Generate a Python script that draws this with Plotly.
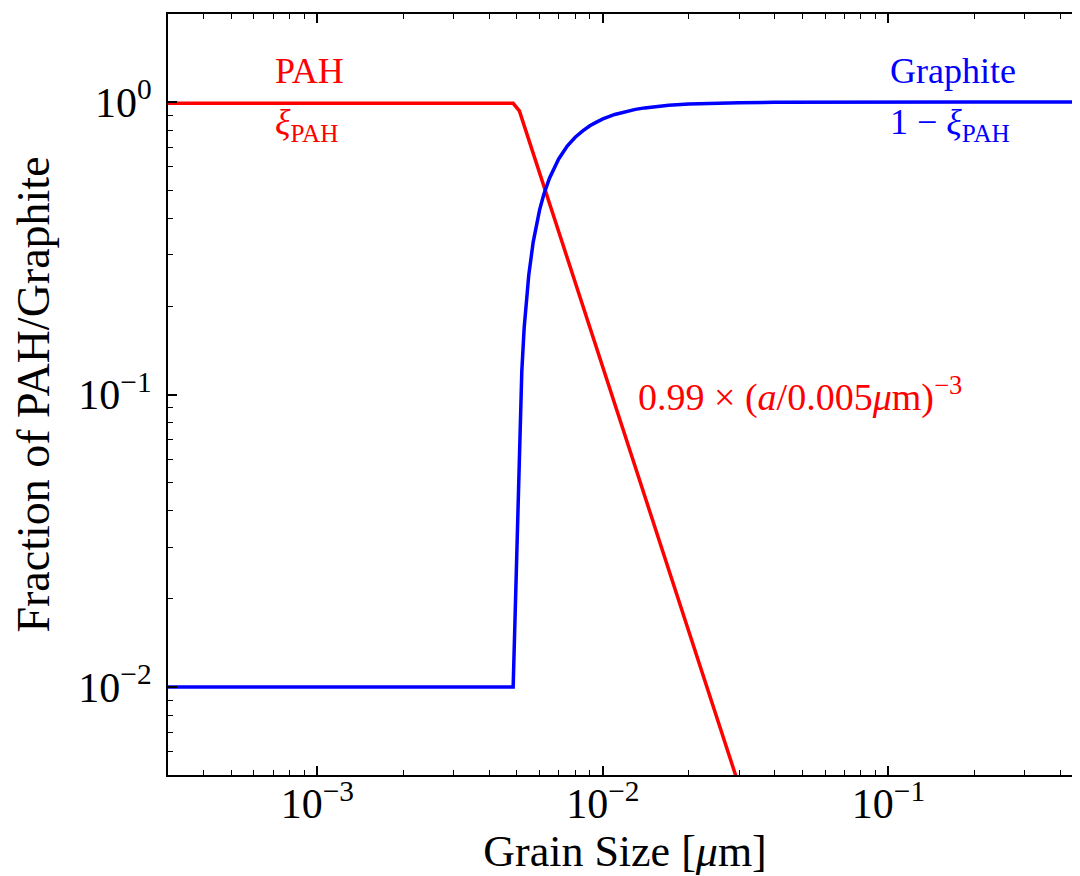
import numpy as np
import plotly.graph_objects as go

# Grain size [um]
pah_x = [0.0003, 0.00485, 0.0051, 0.0052, 0.03]
pah_y = [0.99, 0.99, 0.933, 0.880, 0.00458]

gra_x = [0.0003, 0.00485, 0.0052, 0.0053, 0.0055, 0.0057, 0.006, 0.0062, 0.0065,
         0.007, 0.0075, 0.008, 0.0085, 0.009, 0.0095, 0.010, 0.011, 0.012, 0.013,
         0.014, 0.015, 0.017, 0.02, 0.025, 0.03, 0.04, 0.05, 0.07, 0.1, 0.2, 0.5]
gra_y = [0.01, 0.01, 0.12, 0.169, 0.256, 0.332, 0.427, 0.481, 0.549,
         0.639, 0.707, 0.758, 0.797, 0.830, 0.854, 0.876, 0.907, 0.928, 0.944,
         0.955, 0.963, 0.975, 0.985, 0.992, 0.995, 0.998, 0.999, 1.0, 1.0, 1.0, 1.0]

x_major = [1e-3, 1e-2, 1e-1]
x_major_text = ["10<sup>−3</sup>", "10<sup>−2</sup>", "10<sup>−1</sup>"]
y_major = [1e-2, 1e-1, 1e0]
y_major_text = ["10<sup>−2</sup>", "10<sup>−1</sup>", "10<sup>0</sup>"]

x_minor = [m * 10.0 ** e for e in (-4, -3, -2, -1) for m in range(2, 10)]
y_minor = [m * 10.0 ** e for e in (-3, -2, -1, 0) for m in range(2, 10)]

FONT = "Liberation Serif"
RED = "#ff0000"
BLUE = "#0000ff"

fig = go.Figure()
fig.add_trace(go.Scatter(x=pah_x, y=pah_y, mode="lines",
                         line=dict(color=RED, width=3.5), showlegend=False))
fig.add_trace(go.Scatter(x=gra_x, y=gra_y, mode="lines",
                         line=dict(color=BLUE, width=3.5), showlegend=False))

axis_common = dict(
    type="log", showgrid=False, zeroline=False, automargin=False,
    showline=True, linecolor="black", linewidth=2,
    ticks="inside", ticklen=9, tickwidth=1.5, tickcolor="black",
    tickfont=dict(family=FONT, size=42, color="black"),
    tickmode="array",
)

fig.update_xaxes(**axis_common,
                 mirror="allticks",
                 range=[np.log10(3e-4), np.log10(0.476)],
                 tickvals=x_major, ticktext=x_major_text,
                 ticklabelstandoff=-9,
                 minor=dict(tickmode="array", tickvals=x_minor, ticks="inside",
                            ticklen=5, tickwidth=1.2, tickcolor="black", showgrid=False),
                 title=dict(text="Grain Size [<i>μ</i>m]",
                            font=dict(family=FONT, size=44, color="black"), standoff=6))
fig.update_yaxes(**axis_common,
                 mirror=False,
                 range=[np.log10(0.005), np.log10(2.0)],
                 tickvals=y_major, ticktext=y_major_text,
                 ticklabelstandoff=6,
                 minor=dict(tickmode="array", tickvals=y_minor, ticks="inside",
                            ticklen=5, tickwidth=1.2, tickcolor="black", showgrid=False),
                 title=dict(text="Fraction of PAH/Graphite",
                            font=dict(family=FONT, size=46, color="black"), standoff=16))

ann_font_r = dict(family=FONT, size=36, color=RED)
ann_font_b = dict(family=FONT, size=36, color=BLUE)
annotations = [
    dict(x=np.log10(7e-4), y=np.log10(1.28), text="PAH", font=ann_font_r),
    dict(x=np.log10(7e-4), y=np.log10(0.84), text="<i>ξ</i><sub>PAH</sub>", font=ann_font_r),
    dict(x=np.log10(0.1), y=np.log10(1.28), text="Graphite", font=ann_font_b),
    dict(x=np.log10(0.1), y=np.log10(0.84), text="1 − <i>ξ</i><sub>PAH</sub>", font=ann_font_b),
    dict(x=np.log10(0.0131), y=np.log10(0.1),
         text="0.99 × (<i>a</i>/0.005<i>μ</i>m)<sup>−3</sup>",
         font=dict(family=FONT, size=38, color=RED)),
]
for a in annotations:
    a.update(xref="x", yref="y", xanchor="left", yanchor="middle", showarrow=False)

# the page body adds an 8px offset, so the figure is sized to compensate
fig.update_layout(
    width=1074, height=868, autosize=False,
    margin=dict(l=160, r=0, t=6, b=101, autoexpand=False),
    plot_bgcolor="white", paper_bgcolor="white",
    annotations=annotations,
)

fig.write_html("out.html", config={"responsive": False})
